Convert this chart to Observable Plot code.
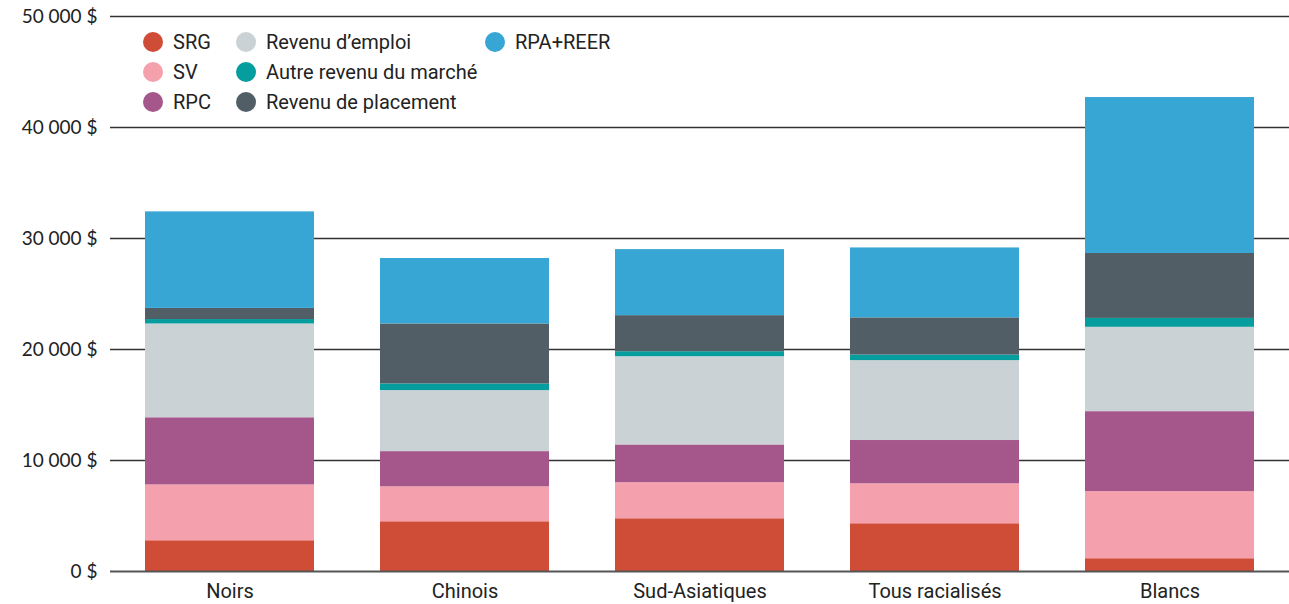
<!DOCTYPE html>
<html>
<head>
<meta charset="utf-8">
<script src="https://cdn.jsdelivr.net/npm/d3@7"></script>
<script src="https://cdn.jsdelivr.net/npm/@observablehq/plot@0.6"></script>
<style>
  html, body { margin: 0; padding: 0; background: #fff; }
  #wrap { position: relative; width: 1289px; height: 604px; }
  #legend { position: absolute; left: 143px; top: 27px; display: grid;
    grid-template-columns: 93px 249px auto; grid-auto-flow: column; grid-template-rows: 30px 30px 30px;
    font-family: Roboto, sans-serif; font-size: 20px; color: #222; }
  .item { display: flex; align-items: center; white-space: nowrap; }
  .sw { width: 20px; height: 20px; border-radius: 50%; margin-right: 10px; flex: none; }
</style>
</head>
<body>
<div id="wrap"><div id="legend"></div></div>
<script>
const categories = ["Noirs", "Chinois", "Sud-Asiatiques", "Tous racialisés", "Blancs"];
const series = ["SRG", "SV", "RPC", "Revenu d’emploi", "Autre revenu du marché", "Revenu de placement", "RPA+REER"];
const colors = ["#cf4c37", "#f5a0ad", "#a5568a", "#cad2d5", "#069d9f", "#515e66", "#38a6d5"];
const yTicks = [0, 10000, 20000, 30000, 40000, 50000];

const srg        = [2770, 4480, 4750, 4300, 1150];
const sv         = [5030, 3150, 3250, 3600, 6050];
const rpc        = [6050, 3170, 3400, 3900, 7200];
const emploi     = [8450, 5500, 7950, 7200, 7600];
const autre      = [ 400,  600,  450,  500,  800];
const placement  = [1000, 5400, 3250, 3350, 5850];
const rpaReer    = [8700, 5900, 5950, 6300, 14050];

const valuesBySeries = [srg, sv, rpc, emploi, autre, placement, rpaReer];
const data = [];
series.forEach((s, si) => categories.forEach((c, ci) => data.push({cat: c, series: s, value: valuesBySeries[si][ci]})));

const fmt = d => d3.format(",")(d).replace(/,/g, " ") + " $";

const chart = Plot.plot({
  width: 1289,
  height: 604,
  marginLeft: 110,
  marginRight: 0,
  marginTop: 16,
  marginBottom: 33,
  style: {fontFamily: "Roboto, sans-serif", fontSize: "20px", color: "#222", background: "transparent"},
  x: {domain: categories, paddingInner: 0.279, paddingOuter: 0.14, label: null},
  y: {domain: [0, 50000], label: null},
  color: {domain: series, range: colors},
  marks: [
    Plot.ruleY(yTicks.filter(d => d > 0), {stroke: "#333", strokeWidth: 1.5}),
    Plot.barY(data, Plot.stackY({order: series, x: "cat", y: "value", fill: "series"})),
    Plot.ruleY([0], {stroke: "#555", strokeWidth: 2}),
    Plot.axisY(yTicks, {tickSize: 0, tickPadding: 13, tickFormat: fmt, fontFamily: "Lato, sans-serif", fontSize: 19, fill: "#222", label: null}),
    Plot.axisX({tickSize: 0, tickPadding: 12, fontSize: 20, fill: "#222", label: null})
  ]
});
document.getElementById("wrap").prepend(chart);

const legend = document.getElementById("legend");
series.forEach((s, i) => {
  const it = document.createElement("div");
  it.className = "item";
  it.innerHTML = `<span class="sw" style="background:${colors[i]}"></span><span>${s}</span>`;
  legend.appendChild(it);
});
</script>
</body>
</html>
